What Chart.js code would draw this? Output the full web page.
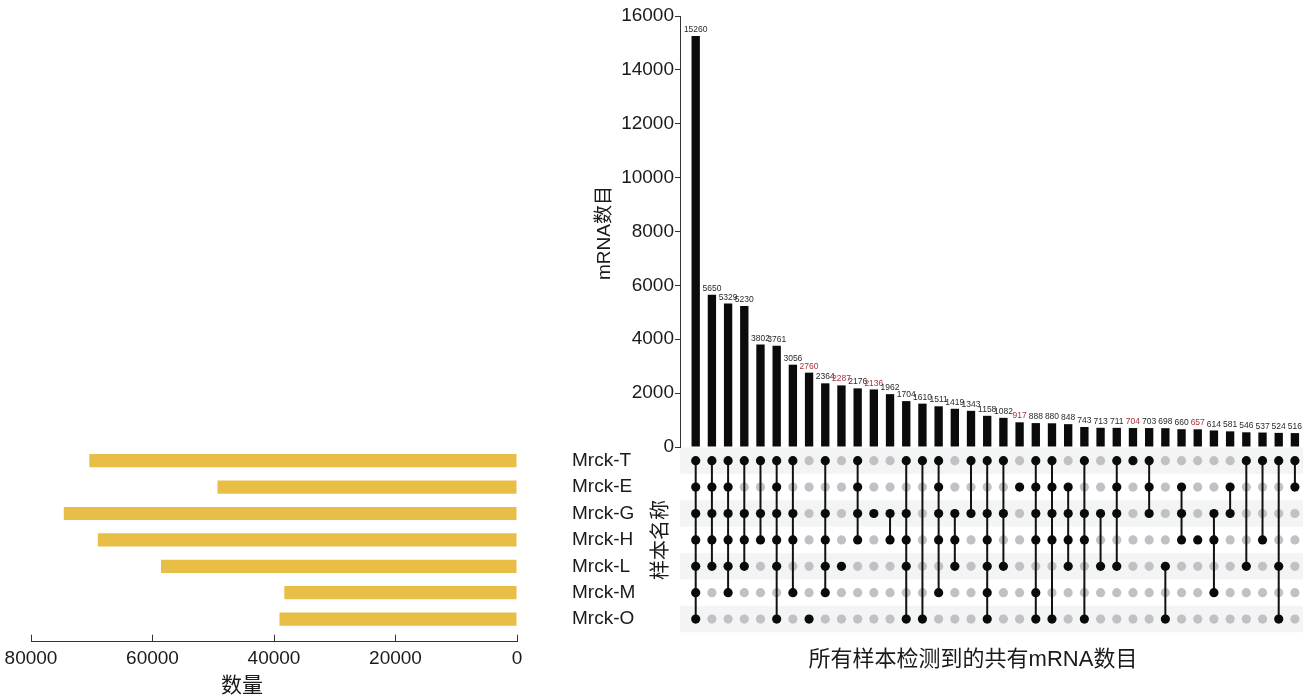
<!DOCTYPE html>
<html>
<head>
<meta charset="utf-8">
<script src="https://cdn.jsdelivr.net/npm/chart.js@4/dist/chart.umd.min.js"></script>
<style>
  html, body { margin: 0; padding: 0; background: #ffffff; overflow: hidden; }
  .layer { position: absolute; left: 0; top: 0; width: 1316px; height: 699px; }
</style>
</head>
<body>
<div class="layer"><canvas id="totals" width="1316" height="699"></canvas></div>
<div class="layer"><canvas id="matrix" width="1316" height="699"></canvas></div>
<div class="layer"><canvas id="intersections" width="1316" height="699"></canvas></div>
<script>
// Sample names, their one-letter keys and total mRNA counts per sample
const samples = ['Mrck-T', 'Mrck-E', 'Mrck-G', 'Mrck-H', 'Mrck-L', 'Mrck-M', 'Mrck-O'];
const sampleKeys = ['T', 'E', 'G', 'H', 'L', 'M', 'O'];
const sampleTotals = [70400, 49300, 74600, 69000, 58600, 38300, 39100];

// Intersection sizes (sorted) and which samples share each intersection
const intersectionSizes = [15260, 5650, 5329, 5230, 3802, 3761, 3056, 2760, 2364, 2287,
  2176, 2136, 1962, 1704, 1610, 1511, 1419, 1343, 1158, 1082,
  917, 888, 880, 848, 743, 713, 711, 704, 703, 698,
  660, 657, 614, 581, 546, 537, 524, 516];
const intersectionMembers = ['TEGHLMO', 'TEGHL', 'TEGHLM', 'TGHL', 'TGH', 'TEGHLO', 'TGHM', 'O', 'TGHLM', 'L',
  'TEGH', 'G', 'GH', 'TGHLO', 'TO', 'TEGHM', 'GHL', 'TG', 'TGHLMO', 'TGL',
  'E', 'TEGHMO', 'TEGHO', 'EGHL', 'TGHO', 'GL', 'TEGL', 'T', 'TEG', 'LO',
  'EGH', 'H', 'GHM', 'EG', 'TL', 'TH', 'TLO', 'TE'];

const FONT = '"Liberation Sans", "Noto Sans CJK SC", Arial, sans-serif';
const INK = '#1a1a1a';

// Shared column range so bars and the dot matrix line up
const COL_MIN = -0.97, COL_MAX = 37.5;

const baseOptions = {
  responsive: false,
  animation: false,
  events: [],
  plugins: { legend: { display: false }, tooltip: { enabled: false } }
};

const plainNumber = (v) => String(v);

// Keep tick-label overhang from pushing the plot area around
function noLabelPadding(scale) {
  scale.paddingLeft = scale.paddingRight = scale.paddingTop = scale.paddingBottom = 0;
}

// ---- Number labels above each intersection bar ----
const valueLabels = {
  id: 'valueLabels',
  afterDatasetsDraw(chart) {
    const ctx = chart.ctx;
    const meta = chart.getDatasetMeta(0);
    ctx.save();
    ctx.font = '8.5px ' + FONT;
    ctx.textAlign = 'center';
    ctx.textBaseline = 'bottom';
    meta.data.forEach((bar, i) => {
      ctx.fillStyle = intersectionMembers[i].length === 1 ? '#a8323e' : '#2a2a2a';
      ctx.fillText(String(intersectionSizes[i]), bar.x, bar.y - 2);
    });
    ctx.restore();
  }
};

// ---- Axis titles ----
const axisTitles = {
  id: 'axisTitles',
  afterDraw(chart) {
    const ctx = chart.ctx;
    ctx.save();
    ctx.fillStyle = INK;
    ctx.textAlign = 'center';
    ctx.textBaseline = 'middle';

    ctx.save();
    ctx.translate(605, 233);
    ctx.rotate(-Math.PI / 2);
    ctx.font = '19px ' + FONT;
    ctx.fillText('mRNA数目', 0, 0);
    ctx.restore();

    ctx.save();
    ctx.translate(661, 540);
    ctx.rotate(-Math.PI / 2);
    ctx.font = '20px ' + FONT;
    ctx.fillText('样本名称', 0, 0);
    ctx.restore();

    ctx.font = '21px ' + FONT;
    ctx.fillText('数量', 242, 686);

    ctx.font = '22px ' + FONT;
    ctx.fillText('所有样本检测到的共有mRNA数目', 973, 660);
    ctx.restore();
  }
};

// ---- Alternating row bands behind the dot matrix ----
const rowBands = {
  id: 'rowBands',
  beforeDatasetsDraw(chart) {
    const { ctx, chartArea, scales } = chart;
    const y = scales.y;
    ctx.save();
    ctx.fillStyle = '#f3f5f5';
    samples.forEach((s, r) => {
      if (r % 2 === 0) {
        const a = y.getPixelForValue(r - 0.5), b = y.getPixelForValue(r + 0.5);
        ctx.fillRect(chartArea.left, Math.min(a, b), chartArea.right - chartArea.left, Math.abs(b - a));
      }
    });
    ctx.restore();
  }
};

// ---- Intersection size bars (top) ----
new Chart(document.getElementById('intersections'), {
  type: 'bar',
  data: {
    datasets: [{
      data: intersectionSizes.map((v, i) => ({ x: i, y: v })),
      backgroundColor: '#0b0b0b',
      categoryPercentage: 1,
      barPercentage: 0.515
    }]
  },
  options: Object.assign({}, baseOptions, {
    layout: { padding: { left: 0, right: 13, top: 16, bottom: 252 } },
    scales: {
      x: { type: 'linear', min: COL_MIN, max: COL_MAX, offset: false, display: false },
      y: {
        min: 0, max: 16000,
        ticks: { stepSize: 2000, color: INK, font: { family: FONT, size: 19 }, padding: 1, callback: plainNumber },
        grid: { drawOnChartArea: false, tickLength: 5, color: '#333333' },
        border: { color: '#333333' },
        afterFit(scale) { scale.width = 680; noLabelPadding(scale); }
      }
    }
  }),
  plugins: [valueLabels]
});

// ---- Membership dot matrix ----
const greyDots = [], blackDots = [], links = [];
intersectionMembers.forEach((m, i) => {
  const rows = [];
  sampleKeys.forEach((k, r) => {
    if (m.includes(k)) { blackDots.push({ x: i, y: r }); rows.push(r); }
    else greyDots.push({ x: i, y: r });
  });
  if (rows.length > 1) {
    links.push({ x: i, y: rows[0] }, { x: i, y: rows[rows.length - 1] }, { x: i, y: null });
  }
});

new Chart(document.getElementById('matrix'), {
  type: 'scatter',
  data: {
    datasets: [
      { data: blackDots, order: 1, pointRadius: 4.6, pointBorderWidth: 0, pointBackgroundColor: '#0a0a0a' },
      { type: 'line', data: links, order: 2, pointRadius: 0, borderColor: '#111111', borderWidth: 2, spanGaps: false, showLine: true },
      { data: greyDots, order: 3, pointRadius: 4.6, pointBorderWidth: 0, pointBackgroundColor: '#c2c0c6' }
    ]
  },
  options: Object.assign({}, baseOptions, {
    layout: { padding: { left: 680, right: 13, top: 447.5, bottom: 66.7 } },
    scales: {
      x: { type: 'linear', min: COL_MIN, max: COL_MAX, offset: false, display: false },
      y: { type: 'linear', min: -0.5, max: 6.5, reverse: true, offset: false, display: false }
    }
  }),
  plugins: [rowBands, axisTitles]
});

// ---- Per-sample totals (left, reversed horizontal bars) ----
new Chart(document.getElementById('totals'), {
  type: 'bar',
  data: {
    datasets: [{
      data: sampleTotals.map((v, r) => ({ x: v, y: r })),
      backgroundColor: '#e8be46',
      categoryPercentage: 1,
      barPercentage: 0.5
    }]
  },
  options: Object.assign({}, baseOptions, {
    indexAxis: 'y',
    layout: { padding: { left: 31, right: 636, top: 447.5, bottom: 0 } },
    scales: {
      x: {
        type: 'linear', reverse: true, min: 0, max: 80000,
        ticks: { stepSize: 20000, color: INK, font: { family: FONT, size: 19 }, padding: 13, maxRotation: 0, callback: plainNumber },
        grid: { drawOnChartArea: false, tickLength: -7, color: '#333333' },
        border: { color: '#333333' },
        afterFit(scale) { scale.height = 57.3; noLabelPadding(scale); }
      },
      y: {
        type: 'linear', position: 'right', reverse: true, min: -0.5, max: 6.856, offset: false,
        grid: { display: false, drawTicks: false },
        border: { display: false },
        ticks: { color: INK, font: { family: FONT, size: 19 }, padding: 55, callback: (v) => samples[v] },
        afterBuildTicks(scale) { scale.ticks = samples.map((s, r) => ({ value: r })); },
        afterFit(scale) { scale.width = 163; noLabelPadding(scale); }
      }
    }
  })
});
</script>
</body>
</html>
